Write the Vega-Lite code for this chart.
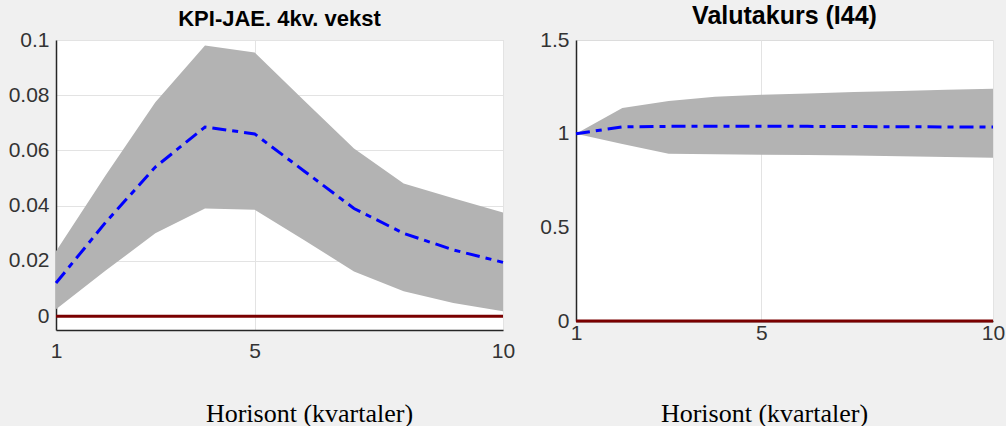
{
  "$schema": "https://vega.github.io/schema/vega-lite/v6.json",
  "background": "#f0f0f0",
  "padding": {"left": 7, "top": 3, "right": 0, "bottom": 0},
  "bounds": "flush",
  "spacing": 73,
  "config": {
    "view": {"fill": "white", "stroke": "#dcdcdc", "strokeWidth": 1},
    "axis": {
      "labelFont": "Liberation Sans", "labelFontSize": 21, "labelColor": "#333333",
      "domainColor": "#262626", "domainWidth": 1.5,
      "ticks": false, "tickSize": 0,
      "gridColor": "#e3e3e3", "gridWidth": 1,
      "titleFont": "Liberation Serif", "titleFontSize": 26, "titleFontWeight": "normal", "titleColor": "black",
      "labelFlush": false
    },
    "title": {"font": "Liberation Sans", "fontWeight": "bold", "color": "black", "anchor": "middle"}
  },
  "hconcat": [
    {
      "width": 447, "height": 290,
      "title": {"text": "KPI-JAE. 4kv. vekst", "fontSize": 22, "offset": -2},
      "data": {"values": [
        {"h": 1, "lo": 0.0025, "mean": 0.012, "hi": 0.0235, "zero": 0},
        {"h": 2, "lo": 0.0165, "mean": 0.034, "hi": 0.051, "zero": 0},
        {"h": 3, "lo": 0.030, "mean": 0.054, "hi": 0.0775, "zero": 0},
        {"h": 4, "lo": 0.039, "mean": 0.0685, "hi": 0.098, "zero": 0},
        {"h": 5, "lo": 0.0385, "mean": 0.066, "hi": 0.0955, "zero": 0},
        {"h": 6, "lo": 0.0275, "mean": 0.0525, "hi": 0.078, "zero": 0},
        {"h": 7, "lo": 0.0162, "mean": 0.039, "hi": 0.0607, "zero": 0},
        {"h": 8, "lo": 0.009, "mean": 0.030, "hi": 0.048, "zero": 0},
        {"h": 9, "lo": 0.0048, "mean": 0.024, "hi": 0.0427, "zero": 0},
        {"h": 10, "lo": 0.0018, "mean": 0.0195, "hi": 0.0375, "zero": 0}
      ]},
      "layer": [
        {
          "mark": {"type": "area", "color": "#b3b3b3", "opacity": 1},
          "encoding": {
            "x": {"field": "h", "type": "quantitative",
                  "scale": {"domain": [1, 10], "nice": false, "zero": false},
                  "axis": {"values": [1, 5, 10], "labelPadding": 10, "grid": true,
                           "title": "Horisont (kvartaler)", "titleX": 253, "titleY": 91,
                           "titleAlign": "center", "titleBaseline": "alphabetic"}},
            "y": {"field": "lo", "type": "quantitative",
                  "scale": {"domain": [-0.005, 0.1], "nice": false, "zero": false},
                  "axis": {"values": [0, 0.02, 0.04, 0.06, 0.08, 0.1], "format": "~g",
                           "labelPadding": 7, "grid": true, "title": null}},
            "y2": {"field": "hi"}
          }
        },
        {
          "mark": {"type": "line", "color": "#7a0000", "strokeWidth": 3},
          "encoding": {
            "x": {"field": "h", "type": "quantitative"},
            "y": {"field": "zero", "type": "quantitative"}
          }
        },
        {
          "mark": {"type": "line", "color": "#0000ff", "strokeWidth": 3, "strokeDash": [14, 6, 6, 6]},
          "encoding": {
            "x": {"field": "h", "type": "quantitative"},
            "y": {"field": "mean", "type": "quantitative"}
          }
        }
      ]
    },
    {
      "width": 417, "height": 281,
      "title": {"text": "Valutakurs (I44)", "fontSize": 25, "offset": 0},
      "data": {"values": [
        {"h": 1, "lo": 1.0, "mean": 1.0, "hi": 1.0, "zero": 0},
        {"h": 2, "lo": 0.945, "mean": 1.036, "hi": 1.137, "zero": 0},
        {"h": 3, "lo": 0.893, "mean": 1.039, "hi": 1.175, "zero": 0},
        {"h": 4, "lo": 0.89, "mean": 1.04, "hi": 1.197, "zero": 0},
        {"h": 5, "lo": 0.888, "mean": 1.04, "hi": 1.208, "zero": 0},
        {"h": 6, "lo": 0.886, "mean": 1.039, "hi": 1.215, "zero": 0},
        {"h": 7, "lo": 0.884, "mean": 1.038, "hi": 1.222, "zero": 0},
        {"h": 8, "lo": 0.88, "mean": 1.037, "hi": 1.228, "zero": 0},
        {"h": 9, "lo": 0.876, "mean": 1.036, "hi": 1.234, "zero": 0},
        {"h": 10, "lo": 0.872, "mean": 1.035, "hi": 1.24, "zero": 0}
      ]},
      "layer": [
        {
          "mark": {"type": "area", "color": "#b3b3b3", "opacity": 1},
          "encoding": {
            "x": {"field": "h", "type": "quantitative",
                  "scale": {"domain": [1, 10], "nice": false, "zero": false},
                  "axis": {"values": [1, 5, 10], "labelPadding": 1, "grid": true,
                           "title": "Horisont (kvartaler)", "titleX": 188, "titleY": 100,
                           "titleAlign": "center", "titleBaseline": "alphabetic"}},
            "y": {"field": "lo", "type": "quantitative",
                  "scale": {"domain": [0, 1.5], "nice": false, "zero": false},
                  "axis": {"values": [0, 0.5, 1, 1.5], "format": "~g",
                           "labelPadding": 7, "grid": false, "title": null}},
            "y2": {"field": "hi"}
          }
        },
        {
          "mark": {"type": "line", "color": "#7a0000", "strokeWidth": 3},
          "encoding": {
            "x": {"field": "h", "type": "quantitative"},
            "y": {"field": "zero", "type": "quantitative"}
          }
        },
        {
          "mark": {"type": "line", "color": "#0000ff", "strokeWidth": 3, "strokeDash": [14, 6, 6, 6]},
          "encoding": {
            "x": {"field": "h", "type": "quantitative"},
            "y": {"field": "mean", "type": "quantitative"}
          }
        }
      ]
    }
  ]
}
